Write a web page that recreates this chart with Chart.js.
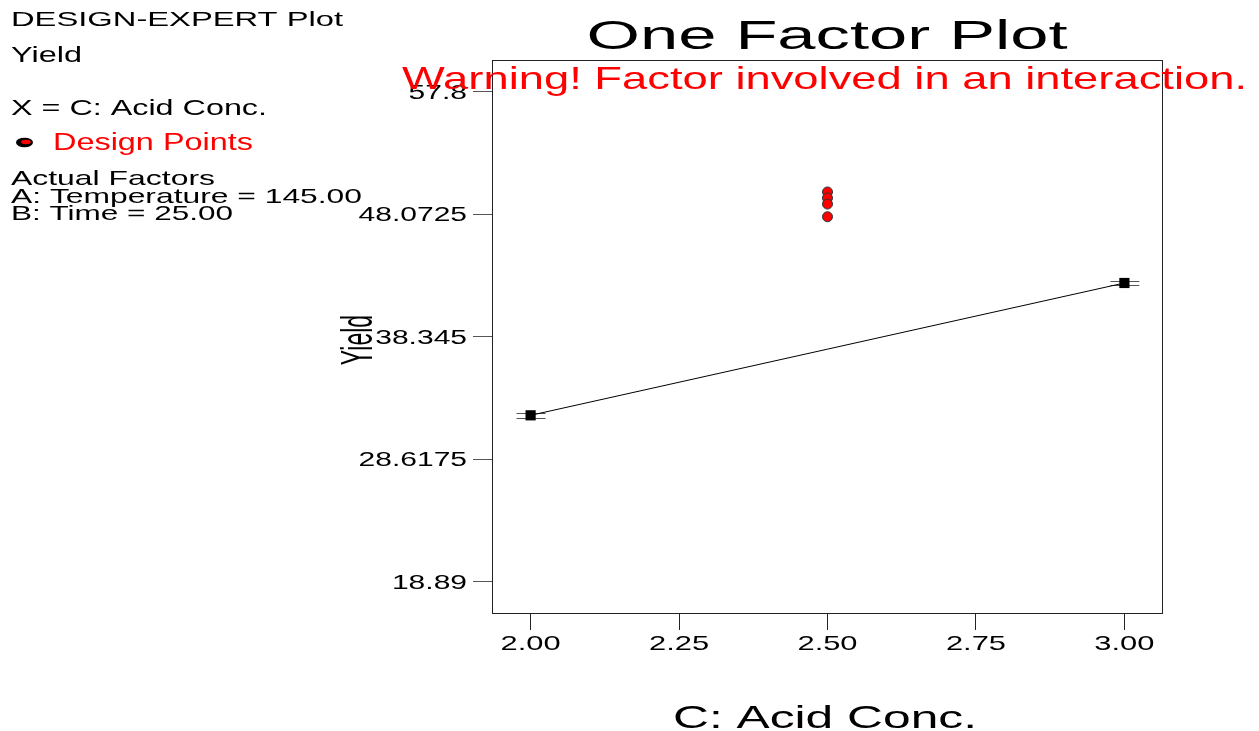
<!DOCTYPE html>
<html>
<head>
<meta charset="utf-8">
<title>One Factor Plot</title>
<script src="https://cdn.jsdelivr.net/npm/chart.js@4.4.1/dist/chart.umd.min.js"></script>
<style>
  html, body { margin: 0; padding: 0; background: #fff; overflow: hidden; }
  canvas { display: block; }
</style>
</head>
<body>
<canvas id="plot" width="1259" height="731"></canvas>
<script>
// Factor C levels and the model prediction of Yield at each end
const factorLevels = [2.00, 3.00];
const predictedYield = [32.10, 42.61];
// LSD bar ends around each prediction
const lsdLow = [31.89, 42.43];
const lsdHigh = [32.31, 42.79];
// Observed runs (design points)
const designX = [2.50, 2.50, 2.50, 2.50];
const designYield = [49.84, 49.36, 48.88, 47.87];
// Axis ticks
const yTickValues = [57.8, 48.0725, 38.345, 28.6175, 18.89];
const yTickLabels = ['57.8', '48.0725', '38.345', '28.6175', '18.89'];
const xTickValues = [2.00, 2.25, 2.50, 2.75, 3.00];
const xTickLabels = ['2.00', '2.25', '2.50', '2.75', '3.00'];

const FONT = '"Liberation Sans", Arial, Helvetica, sans-serif';

// Draws text widened horizontally (either to a given width or by a factor)
function wideText(ctx, text, x, y, size, opt) {
  ctx.save();
  ctx.font = size + 'px ' + FONT;
  ctx.fillStyle = opt.color || '#000';
  ctx.textAlign = 'left';
  ctx.textBaseline = 'alphabetic';
  const w = ctx.measureText(text).width;
  const sx = opt.width ? opt.width / w : (opt.stretch || 1);
  const drawn = w * sx;
  let left = x;
  if (opt.align === 'center') left = x - drawn / 2;
  else if (opt.align === 'right') left = x - drawn;
  ctx.translate(left, y);
  ctx.scale(sx, 1);
  ctx.fillText(text, 0, 0);
  ctx.restore();
}

const annotations = {
  id: 'annotations',
  beforeDatasetsDraw(chart) {
    const ctx = chart.ctx;
    const xs = chart.scales.x, ys = chart.scales.y;
    const a = chart.chartArea;
    // plot frame
    ctx.save();
    ctx.strokeStyle = '#222';
    ctx.lineWidth = 1;
    ctx.strokeRect(a.left + 0.5, a.top + 0.5, a.right - a.left - 1, a.bottom - a.top);
    // LSD bars
    ctx.strokeStyle = '#555';
    factorLevels.forEach((lv, i) => {
      const px = xs.getPixelForValue(lv);
      [lsdLow[i], lsdHigh[i]].forEach(v => {
        const py = Math.round(ys.getPixelForValue(v)) + 0.5;
        ctx.beginPath();
        ctx.moveTo(px - 14, py);
        ctx.lineTo(px + 15, py);
        ctx.stroke();
      });
    });
    ctx.restore();
  },
  afterDraw(chart) {
    const ctx = chart.ctx;
    const xs = chart.scales.x, ys = chart.scales.y;
    const a = chart.chartArea;

    // tick labels
    yTickValues.forEach((v, i) => {
      wideText(ctx, yTickLabels[i], 467, ys.getPixelForValue(v) + 7, 20, { align: 'right', stretch: 1.5 });
    });
    xTickValues.forEach((v, i) => {
      wideText(ctx, xTickLabels[i], xs.getPixelForValue(v), a.bottom + 37, 21, { align: 'center', stretch: 1.47 });
    });

    // axis titles
    wideText(ctx, 'C: Acid Conc.', 825, 728, 32, { align: 'center', width: 304 });
    ctx.save();
    ctx.font = '23px ' + FONT;
    ctx.fillStyle = '#000';
    ctx.textAlign = 'center';
    ctx.textBaseline = 'alphabetic';
    ctx.translate(356, 340);
    ctx.scale(1.95, 1);
    ctx.rotate(-Math.PI / 2);
    ctx.fillText('Yield', 0, 8.2);
    ctx.restore();

    // headings
    wideText(ctx, 'One Factor Plot', 827, 49, 40, { align: 'center', width: 481 });
    wideText(ctx, 'Warning! Factor involved in an interaction.', 402, 89, 32, { color: '#ff0000', width: 845 });

    // info panel
    wideText(ctx, 'DESIGN-EXPERT Plot', 11, 26, 21, { width: 332 });
    wideText(ctx, 'Yield', 11, 62, 22, { width: 71 });
    wideText(ctx, 'X = C: Acid Conc.', 11, 115, 22, { width: 256 });
    ctx.save();
    ctx.fillStyle = '#000';
    ctx.beginPath();
    ctx.ellipse(24.5, 142.5, 8.5, 4.8, 0, 0, Math.PI * 2);
    ctx.fill();
    ctx.fillStyle = '#ff0000';
    ctx.beginPath();
    ctx.ellipse(26, 142, 4.8, 2.2, 0, 0, Math.PI * 2);
    ctx.fill();
    ctx.restore();
    wideText(ctx, 'Design Points', 53, 150, 23, { color: '#ff0000', width: 200 });
    wideText(ctx, 'Actual Factors', 11, 185, 21, { width: 204 });
    wideText(ctx, 'A: Temperature = 145.00', 11, 203, 21, { width: 351 });
    wideText(ctx, 'B: Time = 25.00', 11, 220, 21, { width: 222 });
  }
};

new Chart(document.getElementById('plot'), {
  type: 'scatter',
  data: {
    datasets: [
      {
        type: 'line',
        label: 'Prediction',
        data: factorLevels.map((x, i) => ({ x: x, y: predictedYield[i] })),
        borderColor: '#000',
        borderWidth: 1,
        showLine: true,
        fill: false,
        tension: 0,
        pointStyle: 'rect',
        pointRadius: 7.2,
        pointBackgroundColor: '#000',
        pointBorderColor: '#000',
        pointBorderWidth: 0,
        order: 2
      },
      {
        label: 'Design Points',
        data: designX.map((x, i) => ({ x: x, y: designYield[i] })),
        pointRadius: 5,
        pointBackgroundColor: '#ff0000',
        pointBorderColor: '#333',
        pointBorderWidth: 1,
        order: 1
      }
    ]
  },
  options: {
    responsive: false,
    animation: false,
    devicePixelRatio: 1,
    layout: { padding: { left: 473, right: 96, top: 60, bottom: 101 } },
    plugins: { legend: { display: false }, tooltip: { enabled: false } },
    scales: {
      x: {
        type: 'linear',
        min: 1.935,
        max: 3.065,
        afterBuildTicks: s => { s.ticks = xTickValues.map(v => ({ value: v })); },
        afterFit: s => { s.height = 17; },
        ticks: { display: false },
        grid: { drawOnChartArea: false, drawTicks: true, tickLength: 17, color: '#222', lineWidth: 1 },
        border: { display: false }
      },
      y: {
        type: 'linear',
        min: 16.40,
        max: 60.32,
        afterBuildTicks: s => { s.ticks = yTickValues.map(v => ({ value: v })); },
        afterFit: s => { s.width = 19; },
        ticks: { display: false },
        grid: { drawOnChartArea: false, drawTicks: true, tickLength: 19, color: '#555', lineWidth: 1 },
        border: { display: false }
      }
    }
  },
  plugins: [annotations]
});
</script>
</body>
</html>
